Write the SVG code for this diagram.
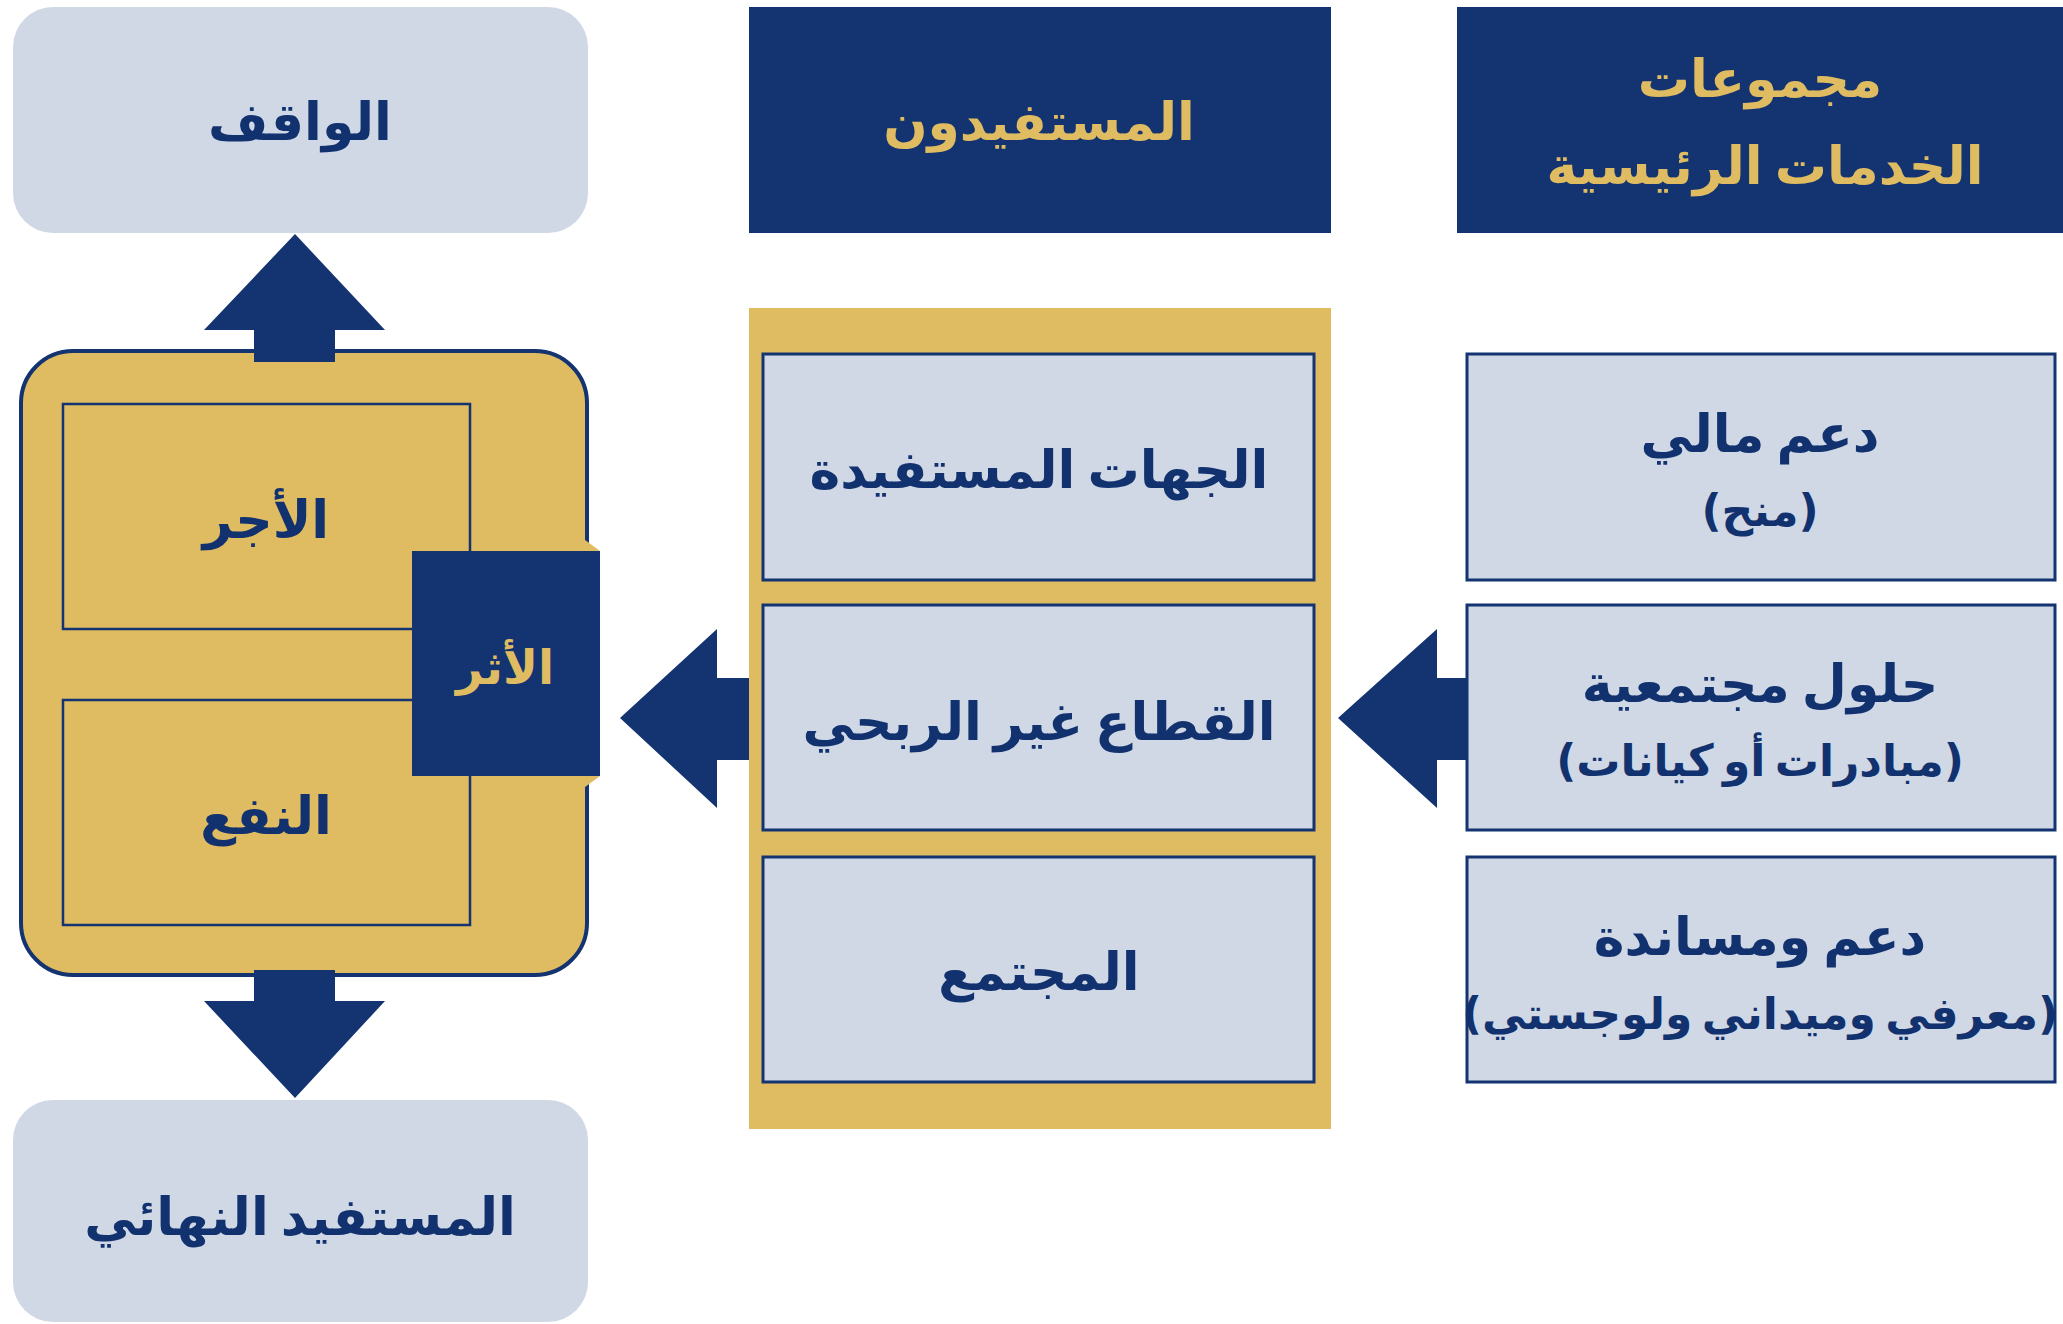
<svg xmlns="http://www.w3.org/2000/svg" width="2063" height="1324" viewBox="0 0 2063 1324">
<style>
.light{fill:#D0D8E6}
.navy{fill:#133371}
.gold{fill:#DFBC62}
.box{fill:#D0D8E6;stroke:#133371;stroke-width:3}
.inner{fill:none;stroke:#133371;stroke-width:2.5}
text{font-family:"DejaVu Sans","Noto Sans",sans-serif;font-weight:bold;text-anchor:middle;dominant-baseline:central;direction:rtl;word-spacing:-6px}
.tn{fill:#12326F;font-size:52px}
.ts{fill:#12326F;font-size:44px}
.tg{fill:#DFBC62;font-size:52px}
.ta{fill:#DFBC62;font-size:47px}
</style>
<rect width="2063" height="1324" fill="#FFFFFF"/>
<g id="waqif"><rect class="light" x="13" y="7" width="575" height="226" rx="40"/><text class="tn" x="300" y="122">الواقف</text></g>
<g id="final"><rect class="light" x="13" y="1100" width="575" height="222" rx="40"/><text class="tn" x="300" y="1217">المستفيد النهائي</text></g>
<g id="impact-group">
<rect class="gold" x="21" y="351" width="566" height="624" rx="52" stroke="#133371" stroke-width="4"/>
<polygon class="gold" points="585,540 600,551 600,776 585,787"/>
</g>
<g id="ajr"><rect class="inner" x="63" y="404" width="407" height="225"/><text class="tn" x="266" y="520">الأجر</text></g>
<g id="nafa"><rect class="inner" x="63" y="700" width="407" height="225"/><text class="tn" x="266" y="816">النفع</text></g>
<g id="athar"><rect class="navy" x="412" y="551" width="188" height="225"/><text class="ta" x="505" y="667">الأثر</text></g>
<g id="header-beneficiaries"><rect class="navy" x="749" y="7" width="582" height="226"/><text class="tg" x="1039" y="122">المستفيدون</text></g>
<g id="header-services"><rect class="navy" x="1457" y="7" width="606" height="226"/><text class="tg" x="1760" y="79">مجموعات</text><text class="tg" x="1765" y="166">الخدمات الرئيسية</text></g>
<g id="beneficiaries-column"><rect class="gold" x="749" y="308" width="582" height="821"/></g>
<g id="entities"><rect class="box" x="763" y="354" width="551" height="226"/><text class="tn" x="1039" y="470">الجهات المستفيدة</text></g>
<g id="nonprofit"><rect class="box" x="763" y="605" width="551" height="225"/><text class="tn" x="1039" y="722">القطاع غير الربحي</text></g>
<g id="community"><rect class="box" x="763" y="857" width="551" height="225"/><text class="tn" x="1039" y="972">المجتمع</text></g>
<g id="financial"><rect class="box" x="1467" y="354" width="588" height="226"/><text class="tn" x="1760" y="434">دعم مالي</text><text class="ts" x="1760" y="510">(منح)</text></g>
<g id="solutions"><rect class="box" x="1467" y="605" width="588" height="225"/><text class="tn" x="1760" y="684">حلول مجتمعية</text><text class="ts" x="1760" y="760">(مبادرات أو كيانات)</text></g>
<g id="support"><rect class="box" x="1467" y="857" width="588" height="225"/><text class="tn" x="1760" y="937">دعم ومساندة</text><text class="ts" x="1760" y="1013">(معرفي وميداني ولوجستي)</text></g>
<g id="connectors" class="navy">
<polygon points="295,234 385,330 335,330 335,362 254,362 254,330 204,330"/>
<polygon points="254,970 335,970 335,1001 385,1001 295,1098 204,1001 254,1001"/>
<polygon points="620,718 717,629 717,678 749,678 749,760 717,760 717,808"/>
<polygon points="1338,718 1437,629 1437,678 1467,678 1467,760 1437,760 1437,808"/>
</g>
</svg>
